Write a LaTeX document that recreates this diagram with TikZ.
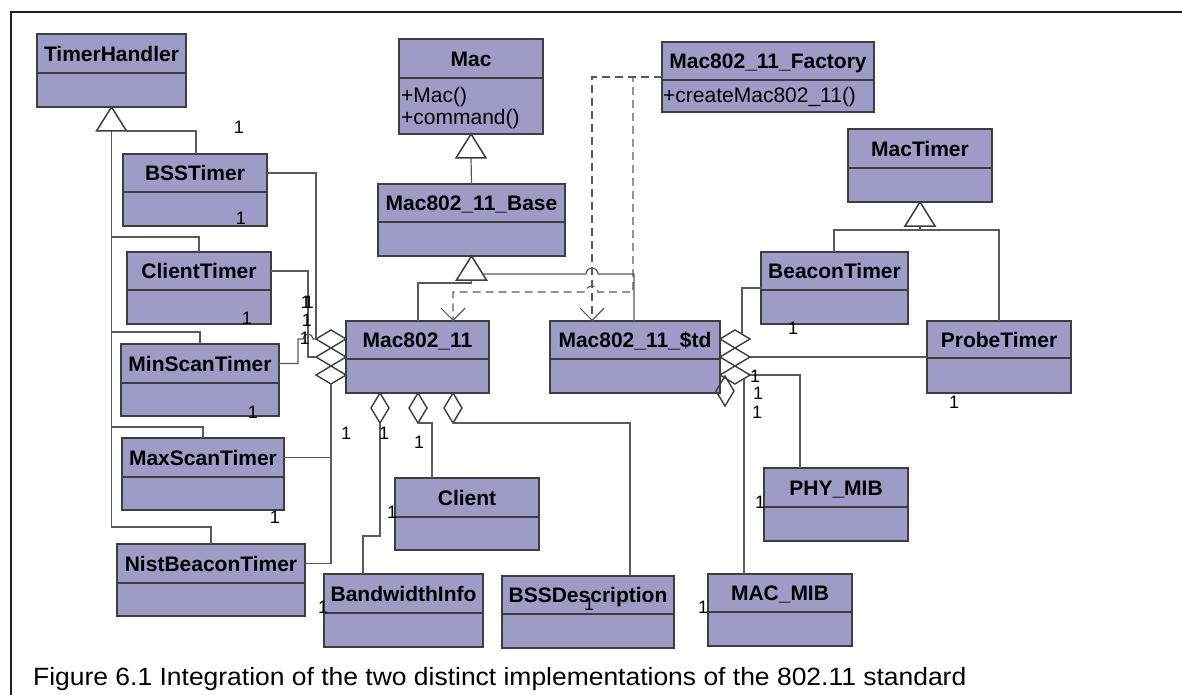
\documentclass[tikz,border=0pt]{standalone}
\usepackage{fontspec}
\setmainfont{Liberation Sans}
\newfontfamily\capfont[FakeStretch=1.058]{Liberation Sans}
\usetikzlibrary{arrows.meta,shapes.geometric,calc}

\definecolor{classfill}{RGB}{156,156,199}
\definecolor{classedge}{RGB}{62,62,62}
\definecolor{wire}{RGB}{90,90,90}
\definecolor{framec}{RGB}{30,30,30}

\tikzset{
  classbox/.style={rectangle, draw=classedge, line width=1.8pt, fill=classfill, inner sep=0pt, outer sep=0pt},
  classrule/.style={draw=classedge, line width=1.8pt},
  classname/.style={font=\fontsize{21}{25}\selectfont\bfseries, inner sep=0pt},
  member/.style={font=\fontsize{21}{25}\selectfont, inner sep=0pt, anchor=base west},
  mult/.style={font=\fontsize{18}{20}\selectfont, inner sep=0pt},
  wire/.style={draw=wire, line width=1.2pt},
  dep/.style={wire, dash pattern=on 8pt off 5pt, -{Straight Barb[length=12pt,width=24pt]}},
  agg/.style={diamond, draw=classedge, line width=1.4pt, inner sep=0pt, outer sep=0pt, minimum width=30pt, minimum height=18pt},
  aggv/.style={agg, minimum width=18pt, minimum height=30pt},
  gen/.style={draw=classedge, line width=1.5pt, fill=white},
  frameline/.style={draw=framec, line width=2pt},
  caption/.style={font=\capfont\fontsize{25}{30}\selectfont, inner sep=0pt, anchor=base west},
}

% class box: name, left, top, right, bottom, divider, title
\newcommand\umlclass[7]{%
  \node[classbox, minimum width={(#4-#2)*1pt}, minimum height={(#5-#3)*1pt}, anchor=north west] (#1) at (#2,#3) {};
  \draw[classrule] (#2,#6) -- (#4,#6);
  \coordinate (#1-r) at ({(#2+#4)/2},{(#3+#6)/2});
  \node[classname, anchor=base] (#1-t) at ({(#2+#4)/2},{(#3+#6)/2+7.6}) {#7};
}

\begin{document}
\begin{tikzpicture}[x=1pt,y=-1pt]
\useasboundingbox (0,0) rectangle (1182,695);

% outer frame
\draw[frameline] (1182,12) -- (11,12) -- (11,695);

% classes
\umlclass{th}{37}{34}{186}{107}{73}{TimerHandler}
\umlclass{bss}{123}{154}{267}{226}{192}{BSSTimer}
\umlclass{ct}{127}{252}{271}{324}{290}{ClientTimer}
\umlclass{mins}{121}{344}{279}{416}{383}{MinScanTimer}
\umlclass{maxs}{122}{438}{284}{510}{477}{MaxScanTimer}
\umlclass{nist}{117}{544}{305}{616}{583}{NistBeaconTimer}
\umlclass{mac}{399}{39}{543}{134}{78}{Mac}
\umlclass{base}{378}{184}{565}{256}{222}{Mac802\_11\_Base}
\umlclass{fac}{662}{42}{874}{112}{80}{Mac802\_11\_Factory}
\umlclass{mt}{848}{129}{992}{202}{168}{MacTimer}
\umlclass{bt}{761}{252}{908}{324}{290}{BeaconTimer}
\umlclass{pt}{927}{321}{1071}{393}{358}{ProbeTimer}
\umlclass{m11}{346}{321}{489}{393}{359}{Mac802\_11}
\umlclass{std}{550}{321}{720}{393}{359}{Mac802\_11\_\$td}
\umlclass{client}{395}{478}{539}{550}{517}{Client}
\umlclass{bwi}{324}{574}{483}{647}{613}{BandwidthInfo}
\umlclass{bssd}{502}{576}{674}{648}{614}{BSSDescription}
\umlclass{phy}{764}{468}{908}{541}{507}{PHY\_MIB}
\umlclass{macmib}{708}{574}{852}{646}{612}{MAC\_MIB}

% operations
\node[member] (mac-op1) at (401,102.5) {+Mac()};
\node[member] (mac-op2) at (401,125) {+command()};
\node[member] (fac-op1) at (663,103) {+createMac802\_11()};

% aggregation diamonds
\node[agg] (d1) at (331,339) {};
\node[agg] (d2) at (331,357) {};
\node[agg] (d3) at (331,375) {};
\node[aggv] (d4) at (380,408) {};
\node[aggv] (d5) at (418,408) {};
\node[aggv] (d6) at (453,408) {};
\node[agg] (d7) at (735,339) {};
\node[agg] (d8) at (735,357) {};
\node[agg] (d9) at (735,375) {};
\node[aggv] (d10) at (725,391) {};

% inheritance: timers
\coordinate (gth) at ($(th.south)+(0,24)$);
\coordinate (gth-r) at ($(th.south)+(15,24)$);
\draw[wire] (gth) |- (211,527) -- (211,0 |- nist.north);
\draw[wire] (gth-r) -| (196,0 |- bss.north);
\draw[wire] (gth |- 0,237) -| (199,0 |- ct.north);
\draw[wire] (gth |- 0,332) -| (200,0 |- mins.north);
\draw[wire] (gth |- 0,427) -| (203,0 |- maxs.north);
\draw[gen] (th.south) -- ++(-15,24) -- ++(30,0) -- cycle;

% timers aggregated by Mac802_11
\draw[wire] (bss-r -| bss.east) -| (d1.west);
\draw[wire] (ct-r -| ct.east) -- (308,0 |- ct-r) |- (d2.west);
\draw[wire] (mins-r -| mins.east) -| (298,0 |- d1.west) -- (303,0 |- d1.west)
  arc[start angle=180,end angle=360,radius=5] -- (d1.west);
\draw[wire] (maxs-r -| maxs.east) -| (d3.south);
\draw[wire] (nist-r -| nist.east) -| (d3.south);

% parts of Mac802_11
\draw[wire] (d4.south) |- (363,536) -- (363,0 |- bwi.north);
\draw[wire] (d5.south) -| (432,0 |- client.north);
\draw[wire] (d6.south) -| (630,0 |- bssd.north);

% parts of Mac802_11_$td
\draw[wire] (bt.west |- 0,288) -| ($(d7.north)+(7,4.2)$);
\draw[wire] (d8.east) -- (d8.east -| pt.west);
\draw[wire] (d9.east) -| (800,0 |- phy.north);
\draw[wire] ($(d9.south)+(9,-5.4)$) -- (744,0 |- macmib.north);

% inheritance: Mac hierarchy
\draw[wire] ($(mac.south)+(0,24)$) -- (base.north);
\draw[gen] (mac.south) -- ++(-15,24) -- ++(30,0) -- cycle;
\coordinate (gbase) at ($(base.south)+(0,24)$);
\draw[wire] (gbase) -- ++(0,3) -| (418,0 |- m11.north);
\draw[wire] ($(base.south)+(11.25,18)$) -- (586,274)
  arc[start angle=180,end angle=360,radius=6] -- (634,274) -- (634,0 |- std.north);
\draw[gen] (base.south) -- ++(-15,24) -- ++(30,0) -- cycle;

% inheritance: MacTimer
\coordinate (gmt) at ($(mt.south)+(0,24)$);
\draw[wire] (gmt) -- ++(0,4) -| (834,0 |- bt.north);
\draw[wire] ($(gmt)+(0,4)$) -| (999,0 |- pt.north);
\draw[gen] (mt.south) -- ++(-15,24) -- ++(30,0) -- cycle;

% factory dependencies
\draw[dep] (fac.west |- 0,77) -- (592,77) -- (592,0 |- std.north);
\draw[dep] (fac.west |- 0,77) -- (633,77) -- (633,292) -- (598,292)
  arc[start angle=0,end angle=-180,radius=6] -- (453,292) -- (453,0 |- m11.north);

% multiplicities
\node[mult] (n1) at (239,127) {1};
\node[mult] (n2) at (241,218) {1};
\node[mult] (n3) at (306,302) {1};
\node[mult] (n4) at (309,302) {1};
\node[mult] (n5) at (307,320) {1};
\node[mult] (n6) at (305,338) {1};
\node[mult] (n7) at (247,318) {1};
\node[mult] (n8) at (253,412) {1};
\node[mult] (n9) at (346,433) {1};
\node[mult] (n10) at (384,433) {1};
\node[mult] (n11) at (419,442) {1};
\node[mult] (n12) at (275,517) {1};
\node[mult] (n13) at (392,512) {1};
\node[mult] (n14) at (323,607) {1};
\node[mult] (n15) at (589,604) {1};
\node[mult] (n16) at (703,607) {1};
\node[mult] (n17) at (760,502) {1};
\node[mult] (n18) at (755,376) {1};
\node[mult] (n19) at (758,393) {1};
\node[mult] (n20) at (757,412) {1};
\node[mult] (n21) at (793,328) {1};
\node[mult] (n22) at (954,402) {1};

% caption
\node[caption] (cap) at (33,685) {Figure 6.1 Integration of the two distinct implementations of the 802.11 standard};
\end{tikzpicture}
\end{document}
